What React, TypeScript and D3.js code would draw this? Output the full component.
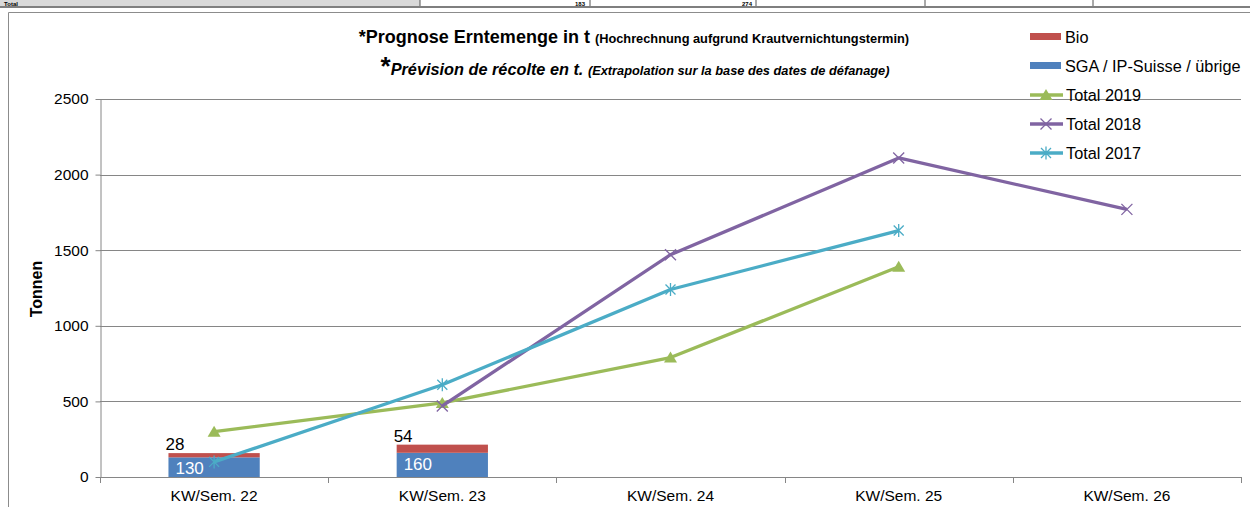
import React, { useEffect, useRef } from 'react';
import * as d3 from 'd3';

const categories = ['KW/Sem. 22', 'KW/Sem. 23', 'KW/Sem. 24', 'KW/Sem. 25', 'KW/Sem. 26'];
const sgaValues = [130, 160, null, null, null];
const bioValues = [28, 54, null, null, null];
const total2019 = [300, 490, 790, 1390, null];
const total2018 = [null, 470, 1470, 2110, 1770];
const total2017 = [100, 610, 1240, 1630, null];
const yTicks = [0, 500, 1000, 1500, 2000, 2500];

const W = 1250;
const H = 507;

const App: React.FC = () => {
  const svgRef = useRef<SVGSVGElement>(null);

  useEffect(() => {
    if (!svgRef.current) return;
    const svg = d3.select(svgRef.current);
    svg.selectAll('*').remove();

    const font = 'Liberation Sans, Arial, sans-serif';
    const x = d3.scaleBand().domain(categories).range([100, 1241]).padding(0);
    const y = d3.scaleLinear().domain([0, 2500]).range([477, 99]);
    const grid = '#868686';

    // Table fragment at top
    svg.append('rect').attr('x', 0).attr('y', 0).attr('width', 420).attr('height', 6).attr('fill', '#d9d9d9');
    svg.append('line').attr('x1', 0).attr('x2', W).attr('y1', 7).attr('y2', 7)
      .attr('stroke', '#7f7f7f').attr('stroke-width', 2);
    [420, 590, 756, 925, 1093].forEach(xx => {
      svg.append('line').attr('x1', xx).attr('x2', xx).attr('y1', 0).attr('y2', 6)
        .attr('stroke', '#555').attr('stroke-width', 1);
    });
    const addT = (tx: number, txt: string, anchor: string) => {
      svg.append('text').attr('x', tx).attr('y', 5.5).attr('text-anchor', anchor).text(txt)
        .attr('font-family', font).attr('font-size', 6).attr('font-weight', 'bold');
    };
    addT(4, 'Total', 'start');
    addT(585, '183', 'end');
    addT(752, '274', 'end');

    // Chart border
    svg.append('path').attr('d', `M8.5,${H} V12.5 H${W}`).attr('fill', 'none')
      .attr('stroke', '#8c8c8c').attr('stroke-width', 1);

    // Gridlines
    svg.append('g').selectAll('line').data(yTicks.slice(1)).enter().append('line')
      .attr('x1', 100).attr('x2', 1241)
      .attr('y1', d => Math.round(y(d)) + 0.5).attr('y2', d => Math.round(y(d)) + 0.5)
      .attr('stroke', grid).attr('stroke-width', 1);

    // Y axis
    const yAxis = svg.append('g').attr('transform', 'translate(100.5,0)')
      .call(d3.axisLeft(y).tickValues(yTicks).tickSize(5).tickSizeOuter(0).tickFormat(d => String(d)));
    yAxis.select('.domain').attr('stroke', grid);
    yAxis.selectAll('line').attr('stroke', grid);
    yAxis.selectAll('text').attr('font-family', font).attr('font-size', 15.5).attr('fill', '#000').attr('x', -12);

    // X axis
    const xa = svg.append('g');
    xa.append('line').attr('x1', 100).attr('x2', 1241).attr('y1', 477.5).attr('y2', 477.5).attr('stroke', grid);
    const edges = categories.map(c => x(c) as number).concat([1241]);
    xa.selectAll('.tk').data(edges).enter().append('line')
      .attr('x1', d => Math.round(d) + 0.5).attr('x2', d => Math.round(d) + 0.5)
      .attr('y1', 477).attr('y2', 483).attr('stroke', grid);
    xa.selectAll('text').data(categories).enter().append('text')
      .attr('x', d => (x(d) as number) + x.bandwidth() / 2).attr('y', 501)
      .attr('text-anchor', 'middle').attr('font-family', font).attr('font-size', 15.5).text(d => d);

    // Y title
    svg.append('text').attr('transform', 'translate(42,289) rotate(-90)').attr('text-anchor', 'middle')
      .attr('font-family', font).attr('font-size', 16).attr('font-weight', 'bold').text('Tonnen');

    // Stacked bars
    const barW = x.bandwidth() * 0.4;
    categories.forEach((c, i) => {
      const s = sgaValues[i];
      const b = bioValues[i];
      if (s == null || b == null) return;
      const bx = (x(c) as number) + x.bandwidth() / 2 - barW / 2;
      svg.append('rect').attr('x', bx).attr('y', y(s)).attr('width', barW).attr('height', y(0) - y(s)).attr('fill', '#4f81bd');
      svg.append('rect').attr('x', bx).attr('y', y(s + b)).attr('width', barW).attr('height', y(s) - y(s + b)).attr('fill', '#c0504d');
      svg.append('text').attr('x', bx + 7).attr('y', y(s) + 17).attr('fill', '#fff')
        .attr('font-family', font).attr('font-size', 17).text(String(s));
      svg.append('text').attr('x', bx - 3).attr('y', y(s + b) - 3).attr('fill', '#000')
        .attr('font-family', font).attr('font-size', 17).text(String(b));
    });

    const cx = (i: number) => (x(categories[i]) as number) + x.bandwidth() / 2;

    const drawMarker = (g: any, px: number, py: number, kind: string, color: string) => {
      if (kind === 'tri') {
        g.append('path').attr('d', `M${px},${py - 6} L${px + 6.5},${py + 5} L${px - 6.5},${py + 5} Z`).attr('fill', color);
      } else if (kind === 'x') {
        g.append('path').attr('d', `M${px - 5.5},${py - 5.5} L${px + 5.5},${py + 5.5} M${px - 5.5},${py + 5.5} L${px + 5.5},${py - 5.5}`)
          .attr('stroke', color).attr('stroke-width', 1.3);
      } else {
        g.append('path').attr('d', `M${px - 5},${py - 5} L${px + 5},${py + 5} M${px - 5},${py + 5} L${px + 5},${py - 5} M${px},${py - 6.5} L${px},${py + 6.5}`)
          .attr('stroke', color).attr('stroke-width', 1.3);
      }
    };

    const series = [
      { data: total2019, color: '#9bbb59', marker: 'tri', name: 'Total 2019' },
      { data: total2018, color: '#8064a2', marker: 'x', name: 'Total 2018' },
      { data: total2017, color: '#4bacc6', marker: 'star', name: 'Total 2017' },
    ];

    const line = d3.line<[number, number | null]>()
      .defined(d => d[1] != null)
      .x(d => cx(d[0]))
      .y(d => y(d[1] as number));

    series.forEach(s => {
      const g = svg.append('g');
      const pts: [number, number | null][] = s.data.map((v, i) => [i, v]);
      g.append('path').attr('d', line(pts)).attr('fill', 'none').attr('stroke', s.color)
        .attr('stroke-width', 3.3).attr('stroke-linejoin', 'round');
      pts.forEach(p => {
        if (p[1] != null) drawMarker(g, cx(p[0]), y(p[1]), s.marker, s.color);
      });
    });

    // Legend
    const lg = svg.append('g');
    const lx = 1030;
    lg.append('rect').attr('x', lx).attr('y', 33).attr('width', 31).attr('height', 7).attr('fill', '#c0504d');
    lg.append('text').attr('x', lx + 35).attr('y', 43).text('Bio').attr('font-family', font).attr('font-size', 16.3);
    lg.append('rect').attr('x', lx).attr('y', 62).attr('width', 31).attr('height', 7).attr('fill', '#4f81bd');
    lg.append('text').attr('x', lx + 35).attr('y', 72).text('SGA / IP-Suisse / übrige').attr('font-family', font).attr('font-size', 16.3);
    series.forEach((s, i) => {
      const ly = 95 + i * 29;
      lg.append('line').attr('x1', lx).attr('x2', lx + 33).attr('y1', ly).attr('y2', ly)
        .attr('stroke', s.color).attr('stroke-width', 3.3);
      drawMarker(lg, lx + 16, ly, s.marker, s.color);
      lg.append('text').attr('x', lx + 36).attr('y', ly + 6).text(s.name).attr('font-family', font).attr('font-size', 16.3);
    });

    // Title
    const t1 = svg.append('text').attr('x', 634).attr('y', 43).attr('text-anchor', 'middle')
      .attr('font-family', font).attr('font-weight', 'bold');
    t1.append('tspan').attr('font-size', 18).text('*Prognose Erntemenge in t ');
    t1.append('tspan').attr('font-size', 12.8).text('(Hochrechnung aufgrund Krautvernichtungstermin)');

    const t2 = svg.append('text').attr('x', 635).attr('y', 75).attr('text-anchor', 'middle')
      .attr('font-family', font).attr('font-weight', 'bold').attr('font-style', 'italic');
    t2.append('tspan').attr('font-size', 26).attr('font-style', 'normal').text('*');
    t2.append('tspan').attr('font-size', 16.3).text('Prévision de récolte en t. ');
    t2.append('tspan').attr('font-size', 12.8).text('(Extrapolation sur la base des dates de défanage)');
  }, []);

  return (
    <div style={{ position: 'fixed', left: 0, top: 0, width: W, height: H, background: '#fff' }}>
      <svg ref={svgRef} width={W} height={H} viewBox={`0 0 ${W} ${H}`} style={{ display: 'block' }} />
    </div>
  );
};

export default App;
